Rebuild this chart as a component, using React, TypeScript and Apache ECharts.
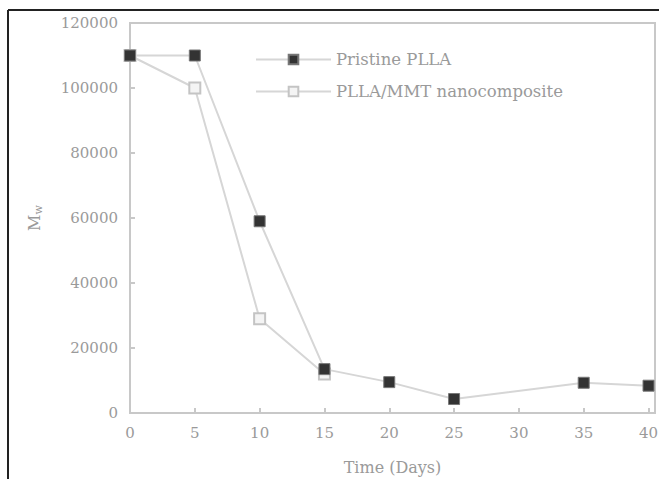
import React, { useEffect, useRef } from "react";
import * as echarts from "echarts";

const days = [0, 5, 10, 15, 20, 25, 35, 40];
const pristine = [110000, 110000, 59000, 13500, 9500, 4300, 9300, 8400];
const mmtDays = [0, 5, 10, 15];
const mmt = [110000, 100000, 29000, 12000];
const xTicks = [0, 5, 10, 15, 20, 25, 30, 35, 40];

const FONT = "DejaVu Serif";
const TXT = "#9a9a9a";

export default function App() {
  const ref = useRef<HTMLDivElement>(null);
  useEffect(() => {
    if (!ref.current) return;
    const chart = echarts.init(ref.current, null, { renderer: "svg" });
    chart.setOption({
      animation: false,
      backgroundColor: "#ffffff",
      grid: {
        left: 130,
        right: 4,
        top: 23,
        bottom: 66,
        show: true,
        borderColor: "#c8c8c8",
        borderWidth: 2,
        containLabel: false,
        outerBoundsMode: "none",
      },
      legend: {
        left: 250,
        top: 46,
        orient: "vertical",
        itemWidth: 75,
        itemHeight: 12,
        itemGap: 15,
        textStyle: { color: TXT, fontFamily: FONT, fontSize: 16.5 },
        data: ["Pristine PLLA", "PLLA/MMT nanocomposite"],
      },
      xAxis: {
        type: "value",
        min: 0,
        max: 40.5,
        interval: 5,
        name: "Time (Days)",
        nameLocation: "middle",
        nameGap: 46,
        nameTextStyle: { color: TXT, fontFamily: FONT, fontSize: 16 },
        axisLine: { lineStyle: { color: "#c8c8c8", width: 2 } },
        axisTick: { inside: true, length: 5, lineStyle: { color: "#c8c8c8", width: 2 } },
        axisLabel: {
          color: TXT,
          fontFamily: FONT,
          fontSize: 15,
          margin: 12,
          formatter: (v: number) => (xTicks.includes(v) ? String(v) : ""),
        },
        splitLine: { show: false },
      },
      yAxis: {
        type: "value",
        min: 0,
        max: 120000,
        interval: 20000,
        name: "{m|M}{s|w}",
        nameLocation: "middle",
        nameGap: 86,
        nameRotate: 90,
        nameTextStyle: {
          rich: {
            m: { color: TXT, fontFamily: FONT, fontSize: 16 },
            s: { color: TXT, fontFamily: FONT, fontSize: 11, padding: [8, 0, 0, 0] },
          },
        },
        axisLine: { show: true, lineStyle: { color: "#c8c8c8", width: 2 } },
        axisTick: { show: true, inside: true, length: 5, lineStyle: { color: "#c8c8c8", width: 2 } },
        axisLabel: {
          color: TXT,
          fontFamily: FONT,
          fontSize: 15,
          margin: 12,
          formatter: (v: number) => String(v),
        },
        splitLine: { show: false },
      },
      series: [
        {
          name: "PLLA/MMT nanocomposite",
          type: "line",
          data: mmtDays.map((d, i) => [d, mmt[i]]),
          symbol: "rect",
          symbolSize: 11,
          lineStyle: { color: "#d6d6d6", width: 2 },
          itemStyle: { color: "#f4f4f4", borderColor: "#c4c4c4", borderWidth: 2 },
          z: 2,
        },
        {
          name: "Pristine PLLA",
          type: "line",
          data: days.map((d, i) => [d, pristine[i]]),
          symbol: "rect",
          symbolSize: 11,
          lineStyle: { color: "#d6d6d6", width: 2 },
          itemStyle: { color: "#333333", borderColor: "#777777", borderWidth: 1 },
          z: 3,
        },
      ],
      graphic: [
        { type: "line", shape: { x1: 8, y1: 10, x2: 8, y2: 479 }, style: { stroke: "#222", lineWidth: 2 } },
        { type: "line", shape: { x1: 8, y1: 10, x2: 659, y2: 10 }, style: { stroke: "#222", lineWidth: 2 } },
      ],
    });
    return () => chart.dispose();
  }, []);
  return (
    <div
      ref={ref}
      style={{ position: "fixed", left: 0, top: 0, width: 659, height: 479 }}
    />
  );
}
